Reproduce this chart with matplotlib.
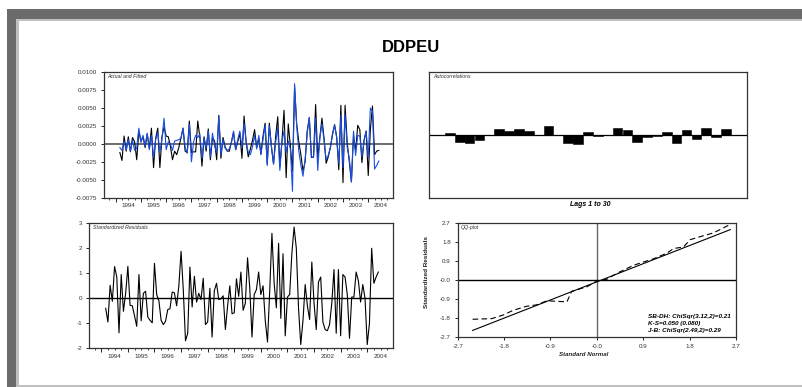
import numpy as np
import matplotlib.pyplot as plt
from matplotlib.patches import Rectangle
from matplotlib.ticker import FixedLocator, FuncFormatter, NullFormatter

plt.rcParams['font.family'] = ['Liberation Sans', 'DejaVu Sans']
plt.rcParams['axes.unicode_minus'] = False

# monthly sample, first observation 1994:03
start_year, start_month = 1994, 3

# actual and fitted values (x 1e-3)
actual = [-1.2, -2.3, 1.1, -1.0, 1.0, -1.1, 0.9, 0.3, -2.2, 1.8,
          0.4, 1.0, -0.5, 1.4, -0.6, 2.2, -3.3, 0.8, 2.2, -3.3,
          1.0, 2.4, 1.1, 1.0, -0.3, -2.2, -1.0, -1.5, -0.5, 0.8,
          2.2, -1.0, -1.2, 3.2, -1.2, -1.1, -1.1, 3.2, 0.9, -3.1,
          1.0, -1.0, 2.1, -2.2, 0.9, 0.4, -2.2, 4.0, -2.0, 0.9,
          -0.4, -1.0, -1.0, 0.3, 1.6, -0.8, 0.3, 1.5, -2.0, 3.9,
          0.2, -1.8, -0.7, 0.5, 2.0, -0.5, 0.8, -1.4, 1.1, 2.9,
          -2.8, 2.9, -0.4, -2.8, 1.0, 3.8, -3.2, 0.4, 4.7, -4.7,
          2.8, -0.3, -3.8, 8.0, 2.8, 0.3, -1.5, -3.8, -2.5, 1.8,
          3.7, -1.9, -1.8, 5.5, -2.0, 0.9, 3.6, 0.8, -2.7, -1.8,
          -0.5, 1.4, 2.7, 1.0, -3.6, 5.4, -5.4, 5.4, 0.2, -2.5,
          -5.3, 1.2, -1.0, 2.6, 2.0, -2.6, 0.5, 1.8, -4.4, 2.0,
          5.3, -1.5, -1.0, -0.9]
fitted = [-0.5, -0.9, 0.4, -0.8, 0.6, -1.0, 0.5, -0.9, -0.6, 2.2,
          0.2, 1.2, -0.3, 1.5, -0.8, 1.2, -1.9, 0.6, 1.6, -1.2,
          0.8, 3.6, -0.8, 0.3, 0.0, -0.9, 0.4, 0.5, 0.6, 0.8,
          2.2, -0.4, -1.3, 2.7, -2.5, 0.3, 1.2, 0.9, 1.4, -2.0,
          0.8, -0.6, 1.8, -1.8, 1.5, -0.3, -1.2, 3.8, -1.5, 0.6,
          -0.6, -0.9, -0.7, 0.2, 1.8, -0.8, 0.6, 1.8, -0.5, 2.9,
          0.3, -1.2, -1.5, -0.4, 1.2, -0.7, 1.2, -1.5, 0.6, 2.6,
          -3.0, 2.5, -0.3, -2.8, 0.2, 2.3, -3.7, 0.3, 1.8, -1.2,
          0.4, -0.7, -6.6, 8.4, 2.5, -1.0, -3.0, -4.5, -2.2, 1.5,
          3.7, -1.8, -1.9, 3.6, -3.7, 0.8, 2.8, 0.5, -2.2, -1.6,
          -0.5, 1.2, 2.6, 0.9, -2.7, 4.0, -3.3, 4.1, -0.5, -2.0,
          -5.3, 1.8, -1.6, 1.2, 1.1, -1.8, 0.4, 1.8, -1.9, 5.0,
          4.6, -3.5, -3.0, -2.4]

# standardized residuals
resid = [-0.40, -0.95, 0.52, -0.12, 1.27, 0.85, -1.38, 0.95, -0.52, 0.20,
         1.28, -0.28, -0.30, -0.70, -1.12, 0.95, -0.90, 0.20, 0.28, -0.75,
         -0.88, -0.98, 1.40, 0.15, -0.10, -0.88, -1.05, -0.92, -0.45, -0.42,
         0.25, 0.22, -0.30, 0.50, 1.88, 0.35, -1.70, -1.40, 1.25, -0.35,
         0.88, -0.15, 0.20, -0.05, 0.80, -1.05, -0.95, 0.40, -1.55, 0.30,
         0.60, -0.05, -0.02, 0.10, -1.25, -0.30, 0.50, -0.62, -0.58, 0.78,
         0.08, 1.05, -0.48, -0.20, 1.62, 0.42, -1.55, 0.15, 0.35, 1.05,
         0.15, 0.50, -0.90, -1.75, 0.30, 2.60, 0.60, -0.38, 2.20, -0.80,
         1.78, -1.50, 0.05, 0.15, 1.80, 2.85, 2.00, -0.40, -1.85, -0.90,
         0.55, -0.30, -0.85, 1.45, -0.20, -1.25, 0.65, 0.85, -0.95, -1.25,
         -1.30, -1.05, -0.20, 1.15, -1.40, 1.15, -1.50, 0.95, 0.85, 0.15,
         -1.60, 0.05, 0.05, 1.05, 0.70, -0.15, 0.55, 0.00, -1.85, -1.00,
         2.00, 0.60, 0.85, 1.05]

# residual autocorrelations, lags 1 to 30
acf_lags = list(range(1, 31))
acf = [0.037, -0.112, -0.133, -0.085, 0.004, 0.101, 0.069, 0.101, 0.059, 0.003,
       0.144, 0.003, -0.122, -0.149, 0.053, -0.016, 0.003, 0.112, 0.074, -0.106,
       -0.037, -0.016, 0.048, -0.128, 0.080, -0.069, 0.117, -0.037, 0.101, 0.002]

# QQ plot: empirical quantiles and normal reference line
qq_x = [-2.41, -2.04, -1.81, -1.62, -1.36, -1.16, -0.97, -0.58, -0.49, -0.19, 0.0,
        0.19, 0.39, 0.71, 1.10, 1.36, 1.49, 1.68, 1.81, 2.07, 2.26, 2.59]
qq_y = [-1.87, -1.84, -1.66, -1.44, -1.25, -1.18, -0.99, -1.04, -0.54, -0.32, -0.05,
        0.03, 0.32, 0.70, 1.01, 1.28, 1.50, 1.57, 1.92, 2.11, 2.24, 2.65]
ref_x = [-2.41, 2.59]
ref_y = [-2.40, 2.40]
qq_ticks = [-2.7, -1.8, -0.9, 0.0, 0.9, 1.8, 2.7]
qq_labels = ['-2.7', '-1.8', '-0.9', '-0.0', '0.9', '1.8', '2.7']
stats = ['SB-DH: ChiSqr(3.12,2)=0.21', 'K-S=0.050 (0.080)', 'J-B: ChiSqr(2.49,2)=0.29']

W, H = 802, 387
t = start_year + (start_month - 1 + np.arange(len(resid))) / 12

fig = plt.figure(figsize=(W / 100, H / 100), dpi=100)
fig.patch.set_facecolor('white')


def px(x0, y0, x1, y1):
    # pixel box (top-left origin) -> figure fraction rect
    return [x0 / W, 1 - y1 / H, (x1 - x0) / W, (y1 - y0) / H]


# window frame
dark, light = '#6b6b6b', '#c0c0c0'
for (x0, y0, x1, y1, c) in [(7, 9, 802, 19, dark), (7, 9, 16, 387, dark),
                            (16, 19, 802, 21, light), (16, 19, 19, 387, light),
                            (16, 385, 802, 387, light)]:
    r = px(x0, y0, x1, y1)
    fig.add_artist(Rectangle((r[0], r[1]), r[2], r[3], transform=fig.transFigure,
                             facecolor=c, edgecolor='none'))

fig.text(411 / W, 1 - 47 / H, 'DDPEU', ha='center', va='center',
         fontsize=12, fontweight='bold')

tick_fs = 4.5
blue = '#1a4fe6'


def year_axis(ax):
    ax.set_xlim(1993.55, 2004.98)
    ax.xaxis.set_major_locator(FixedLocator(np.arange(1994, 2005)))
    ax.xaxis.set_major_formatter(NullFormatter())
    q = [y + f for y in range(1993, 2005) for f in (0.25, 0.5, 0.75)]
    ax.xaxis.set_minor_locator(FixedLocator(q))
    ax.xaxis.set_minor_formatter(FuncFormatter(
        lambda v, p: str(int(v)) if abs(v % 1 - 0.5) < 1e-6 and 1994 <= v < 2005 else ''))
    ax.tick_params(axis='x', which='major', length=3, width=0.6, labelbottom=False)
    ax.tick_params(axis='x', which='minor', length=1.6, width=0.5,
                   labelsize=tick_fs, pad=2.5, colors='black', labelcolor='#333333')
    ax.tick_params(axis='y', length=2.2, width=0.6, labelsize=tick_fs, pad=3,
                   labelcolor='#333333')


def frame(ax):
    for s in ax.spines.values():
        s.set_linewidth(0.9)
        s.set_color('#333333')


def panel_title(ax, s):
    ax.text(0.012, 0.985, s, transform=ax.transAxes, ha='left', va='top',
            fontsize=3.8, style='italic', color='#333333')


# Actual and fitted
ax1 = fig.add_axes(px(104.3, 72.3, 393, 197.7))
ax1.axhline(0, color='#555555', lw=1.2, zorder=1)
ax1.plot(t, np.array(actual) * 1e-3, color='black', lw=0.8, zorder=2)
ax1.plot(t, np.array(fitted) * 1e-3, color=blue, lw=0.8, zorder=3)
ax1.set_ylim(-0.0075, 0.0100)
ax1.set_yticks(np.arange(-0.0075, 0.01001, 0.0025))
ax1.yaxis.set_major_formatter(FuncFormatter(lambda v, p: f'{v:.4f}'))
year_axis(ax1)
frame(ax1)
panel_title(ax1, 'Actual and Fitted')

# Autocorrelations
ax2 = fig.add_axes(px(429, 72.3, 747.3, 197.7))
ax2.bar(acf_lags, acf, width=0.97, color='black', edgecolor='black', lw=0.4)
ax2.axhline(0, color='black', lw=0.9)
ax2.set_xlim(-1.12, 31.17)
ax2.set_ylim(-1, 1)
ax2.set_xticks([])
ax2.set_yticks([])
frame(ax2)
panel_title(ax2, 'Autocorrelations')
fig.text(590 / W, 1 - 204 / H, 'Lags 1 to 30', ha='center', va='center',
         fontsize=5, fontweight='bold', style='italic')

# Standardized residuals
ax3 = fig.add_axes(px(89.3, 223.3, 393.3, 348.3))
ax3.axhline(0, color='black', lw=1.0, zorder=1)
ax3.plot(t, resid, color='black', lw=0.8, zorder=2)
ax3.set_ylim(-2, 3)
ax3.set_yticks([-2, -1, 0, 1, 2, 3])
year_axis(ax3)
frame(ax3)
panel_title(ax3, 'Standardized Residuals')

# QQ plot
ax4 = fig.add_axes(px(457.7, 223.3, 736, 336.7))
ax4.axvline(0, color='#666666', lw=1.0, zorder=1)
ax4.axhline(0, color='black', lw=1.0, zorder=1)
ax4.plot(ref_x, ref_y, color='black', lw=0.8, zorder=2)
ax4.plot(qq_x, qq_y, color='black', lw=0.8, ls=(0, (5, 3)), zorder=3)
ax4.set_xlim(-2.7, 2.7)
ax4.set_ylim(-2.7, 2.7)
ax4.set_xticks(qq_ticks)
ax4.set_xticklabels(qq_labels)
ax4.set_yticks(qq_ticks)
ax4.set_yticklabels(qq_labels)
ax4.tick_params(length=2, width=0.6, labelsize=tick_fs, pad=3, labelcolor='#333333')
frame(ax4)
panel_title(ax4, 'QQ-plot')
for i, s in enumerate(stats):
    fig.text(648.3 / W, 1 - (316.5 + 7.2 * i) / H, s, ha='left', va='center',
             fontsize=4.6, fontweight='bold', style='italic')
fig.text(584 / W, 1 - 355 / H, 'Standard Normal', ha='center', va='center',
         fontsize=4.4, fontweight='bold', style='italic', color='#222222')
fig.text(426 / W, 1 - 272 / H, 'Standardized Residuals', ha='center', va='center',
         rotation=90, fontsize=4.6, fontweight='bold', color='#222222')

fig.savefig('out.png', dpi=100)
